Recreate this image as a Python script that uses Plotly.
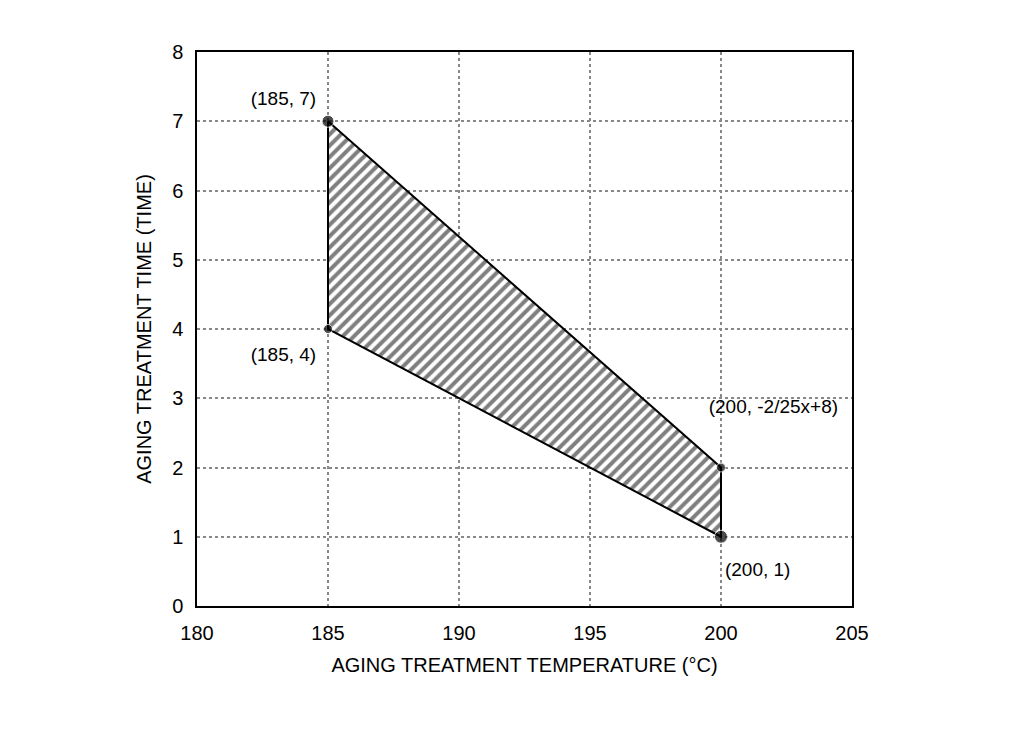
import plotly.graph_objects as go

temps = [185, 200, 200, 185]
times = [7, 2, 1, 4]
labels = ["(185, 7)", "(200, -2/25x+8)", "(200, 1)", "(185, 4)"]
label_x = [183.3, 202.0, 201.4, 183.3]
label_y = [7.3, 2.85, 0.5, 3.6]
marker_sizes = [12, 9, 13, 9]
x_ticks = [180, 185, 190, 195, 200, 205]
y_ticks = [0, 1, 2, 3, 4, 5, 6, 7, 8]

fig = go.Figure()
fig.add_trace(go.Scatter(
    x=temps + [temps[0]], y=times + [times[0]], mode="lines", fill="toself",
    fillcolor="white", line=dict(color="black", width=2),
    fillpattern=dict(shape="/", fgcolor="black", bgcolor="white", size=8, solidity=0.5),
    hoverinfo="skip", showlegend=False))
fig.add_trace(go.Scatter(x=temps, y=times, mode="markers",
    marker=dict(color="black", size=marker_sizes), showlegend=False))
fig.add_trace(go.Scatter(x=label_x, y=label_y, mode="text", text=labels,
    textfont=dict(size=19, color="black", family="Liberation Sans"), showlegend=False))

ax = dict(showline=True, linecolor="black", linewidth=1.5, mirror=True,
          showgrid=True, gridcolor="#888", griddash="dot", gridwidth=1.5,
          ticks="outside", ticklen=8, tickcolor="white", zeroline=False,
          tickfont=dict(size=20, color="black"))
fig.update_layout(
    width=1024, height=741, paper_bgcolor="white", plot_bgcolor="white",
    margin=dict(l=189, r=180, t=44, b=143),
    font=dict(family="Liberation Sans", color="black"),
    xaxis=dict(ax, range=[180, 205], tickvals=x_ticks,
               title=dict(text="AGING TREATMENT TEMPERATURE (°C)", font=dict(size=20))),
    yaxis=dict(ax, range=[0, 8], tickvals=y_ticks,
               title=dict(text="AGING TREATMENT TIME (TIME)", font=dict(size=20))),
)
fig.write_html("out.html")
